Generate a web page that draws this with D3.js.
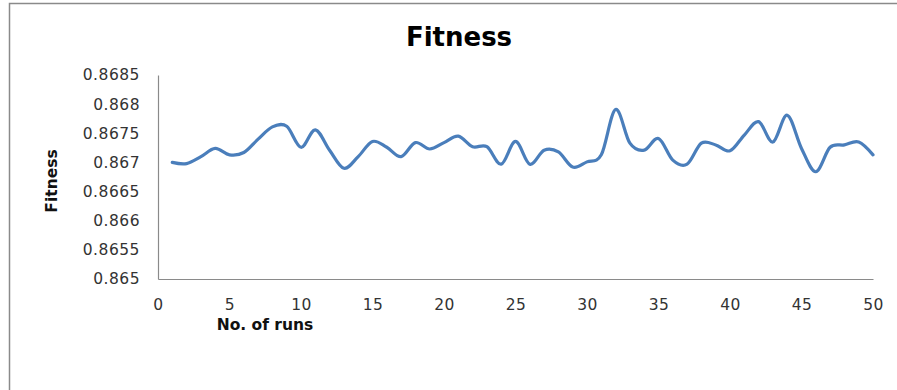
<!DOCTYPE html>
<html>
<head>
<meta charset="utf-8">
<script src="https://cdn.jsdelivr.net/npm/d3@7/dist/d3.min.js"></script>
<style>
  html, body { margin: 0; padding: 0; background: #fff; }
  svg { display: block; }
</style>
</head>
<body>
<svg id="chart" width="897" height="390"></svg>
<script>
// Fitness value recorded for each run
const runs = d3.range(1, 51);
const fitness = [
  0.86700, 0.86698, 0.86710, 0.86724, 0.86713, 0.86717, 0.86740, 0.86761, 0.86762, 0.86726,
  0.86756, 0.86721, 0.86690, 0.86710, 0.86736, 0.86726, 0.86710, 0.86734, 0.86723, 0.86734,
  0.86745, 0.86727, 0.86727, 0.86697, 0.86736, 0.86697, 0.86721, 0.86718, 0.86692, 0.86701,
  0.86713, 0.86791, 0.86733, 0.86721, 0.86741, 0.86704, 0.86697, 0.86733, 0.86730, 0.86720,
  0.86747, 0.86770, 0.86735, 0.86781, 0.86724, 0.86684, 0.86726, 0.86730, 0.86735, 0.86713
];
const xTicks = [0, 5, 10, 15, 20, 25, 30, 35, 40, 45, 50];
const yTicks = [0.865, 0.8655, 0.866, 0.8665, 0.867, 0.8675, 0.868, 0.8685];

const svg = d3.select("#chart");
const plot = { left: 158, right: 873, top: 75, bottom: 279 };

const x = d3.scaleLinear().domain([0, 50]).range([plot.left, plot.right]);
const y = d3.scaleLinear().domain([0.865, 0.8685]).range([plot.bottom, plot.top]);

// outer frame (top and left edges)
svg.append("path")
  .attr("d", "M9.5,390 L9.5,3.5 L897,3.5")
  .attr("fill", "none")
  .attr("stroke", "#8a8a8a")
  .attr("stroke-width", 1.5);

// title
svg.append("text")
  .attr("x", 459).attr("y", 46)
  .attr("text-anchor", "middle")
  .attr("font-family", "DejaVu Sans")
  .attr("font-weight", "bold")
  .attr("font-size", 26)
  .attr("fill", "#000")
  .text("Fitness");

// y axis
const yAxis = svg.append("g")
  .attr("transform", `translate(${plot.left},0)`)
  .call(d3.axisLeft(y).tickValues(yTicks).tickSize(0).tickPadding(18)
    .tickFormat(d => String(+d.toFixed(4))));
yAxis.select(".domain").attr("stroke", "#8a8a8a").attr("stroke-width", 1.2);
yAxis.selectAll("text")
  .attr("font-family", "DejaVu Sans")
  .attr("font-size", 15.5)
  .attr("letter-spacing", 0.5)
  .attr("fill", "#333");

// x axis
const xAxis = svg.append("g")
  .attr("transform", `translate(0,${plot.bottom})`)
  .call(d3.axisBottom(x).tickValues(xTicks).tickSize(0).tickPadding(20));
xAxis.select(".domain").attr("stroke", "#8a8a8a").attr("stroke-width", 1.2);
xAxis.selectAll("text")
  .attr("font-family", "DejaVu Sans")
  .attr("font-size", 15.5)
  .attr("letter-spacing", 0.5)
  .attr("fill", "#333");

// axis titles
svg.append("text")
  .attr("x", 265).attr("y", 330)
  .attr("text-anchor", "middle")
  .attr("font-family", "DejaVu Sans")
  .attr("font-weight", "bold")
  .attr("font-size", 15.5)
  .attr("fill", "#111")
  .text("No. of runs");

svg.append("text")
  .attr("transform", "translate(57,181) rotate(-90)")
  .attr("text-anchor", "middle")
  .attr("font-family", "DejaVu Sans")
  .attr("font-weight", "bold")
  .attr("font-size", 15.5)
  .attr("fill", "#111")
  .text("Fitness");

// smoothed fitness line
const line = d3.line()
  .x((d, i) => x(runs[i]))
  .y(d => y(d))
  .curve(d3.curveCatmullRom.alpha(0));

svg.append("path")
  .datum(fitness)
  .attr("d", line)
  .attr("fill", "none")
  .attr("stroke", "#4a7ebb")
  .attr("stroke-width", 3.2)
  .attr("stroke-linejoin", "round")
  .attr("stroke-linecap", "round");
</script>
</body>
</html>
